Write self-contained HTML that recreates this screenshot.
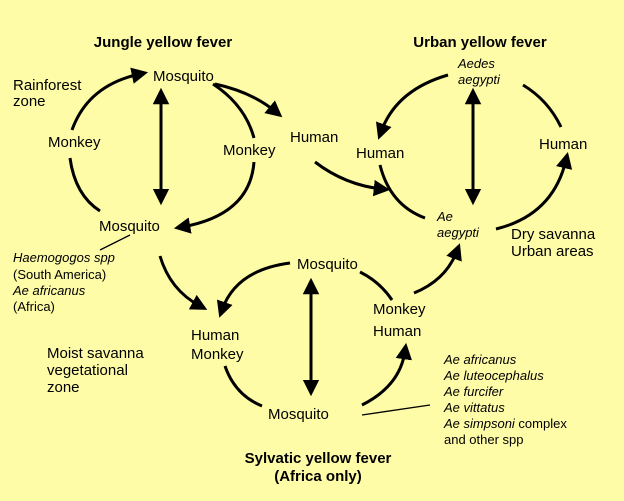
<!DOCTYPE html>
<html><head><meta charset="utf-8"><style>
html,body{margin:0;padding:0;background:#fffca8;}
svg{display:block;font-family:"Liberation Sans",sans-serif;}
.t{font-size:15px;fill:#000}
.i{font-size:13px;font-style:italic}
.s{font-size:13px}
.b{font-size:15px;font-weight:bold}
path.a{fill:none;stroke:#000;stroke-width:3}
</style></head><body>
<svg width="624" height="501" viewBox="0 0 624 501">
<defs>
<marker id="m" markerWidth="5.5" markerHeight="5.5" refX="2.75" refY="2.75" orient="auto-start-reverse" markerUnits="strokeWidth">
<path d="M0,0 L5.5,2.75 L0,5.5 z" fill="#000"/></marker>
</defs>
<rect width="624" height="501" fill="#fffca8"/>
<text class="b" x="163" y="47" text-anchor="middle">Jungle yellow fever</text>
<text class="b" x="480" y="47" text-anchor="middle">Urban yellow fever</text>
<text class="b" x="318" y="463" text-anchor="middle">Sylvatic yellow fever</text>
<text class="b" x="318" y="481" text-anchor="middle">(Africa only)</text>

<!-- Jungle -->
<text class="t" x="153" y="81">Mosquito</text>
<text class="t" x="13" y="90">Rainforest</text>
<text class="t" x="13" y="106">zone</text>
<text class="t" x="48" y="147">Monkey</text>
<text class="t" x="223" y="155">Monkey</text>
<text class="t" x="290" y="142">Human</text>
<text class="t" x="99" y="231">Mosquito</text>
<text class="i" x="13" y="262">Haemogogos spp</text>
<text class="s" x="13" y="279">(South America)</text>
<text class="i" x="13" y="295">Ae africanus</text>
<text class="s" x="13" y="311">(Africa)</text>
<path class="a" d="M72,130 Q88,85 140,74" marker-end="url(#m)"/>
<path class="a" d="M70,158 Q75,195 100,211"/>
<path class="a" d="M213,84 Q245,105 254,138"/>
<path class="a" d="M254,162 Q250,215 182,227" marker-end="url(#m)"/>
<path class="a" d="M215,84 Q252,92 276,112" marker-end="url(#m)"/>
<path class="a" d="M161,96 L161,197" marker-start="url(#m)" marker-end="url(#m)"/>
<path class="a" d="M315,162 Q345,185 382,189" marker-end="url(#m)"/>
<line x1="130" y1="235" x2="100" y2="250" stroke="#000" stroke-width="1.3"/>
<path class="a" d="M160,256 Q170,290 200,306" marker-end="url(#m)"/>

<!-- Urban -->
<text class="i" x="458" y="68">Aedes</text>
<text class="i" x="458" y="84">aegypti</text>
<text class="t" x="356" y="158">Human</text>
<text class="t" x="539" y="149">Human</text>
<text class="i" x="437" y="221">Ae</text>
<text class="i" x="437" y="237">aegypti</text>
<text class="t" x="511" y="239">Dry savanna</text>
<text class="t" x="511" y="256">Urban areas</text>
<path class="a" d="M448,75 Q396,90 381,132" marker-end="url(#m)"/>
<path class="a" d="M523,85 Q548,100 561,127"/>
<path class="a" d="M496,229 Q553,215 566,160" marker-end="url(#m)"/>
<path class="a" d="M380,165 Q390,205 425,218"/>
<path class="a" d="M473,96 L473,197" marker-start="url(#m)" marker-end="url(#m)"/>
<path class="a" d="M414,293 Q446,280 457,251" marker-end="url(#m)"/>

<!-- Sylvatic -->
<text class="t" x="297" y="269">Mosquito</text>
<text class="t" x="373" y="314">Monkey</text>
<text class="t" x="373" y="336">Human</text>
<text class="t" x="191" y="340">Human</text>
<text class="t" x="191" y="359">Monkey</text>
<text class="t" x="268" y="419">Mosquito</text>
<text class="t" x="47" y="358">Moist savanna</text>
<text class="t" x="47" y="375">vegetational</text>
<text class="t" x="47" y="392">zone</text>
<path class="a" d="M290,263 Q236,270 222,310" marker-end="url(#m)"/>
<path class="a" d="M360,272 Q380,282 392,300"/>
<path class="a" d="M225,366 Q235,395 262,406"/>
<path class="a" d="M362,405 Q400,386 405,351" marker-end="url(#m)"/>
<path class="a" d="M311,286 L311,388" marker-start="url(#m)" marker-end="url(#m)"/>
<line x1="362" y1="415" x2="430" y2="405" stroke="#000" stroke-width="1.3"/>
<text class="i" x="444" y="364">Ae africanus</text>
<text class="i" x="444" y="380">Ae luteocephalus</text>
<text class="i" x="444" y="396">Ae furcifer</text>
<text class="i" x="444" y="412">Ae vittatus</text>
<text class="s" x="444" y="428"><tspan font-style="italic">Ae simpsoni</tspan> complex</text>
<text class="s" x="444" y="444">and other spp</text>
</svg>
</body></html>
